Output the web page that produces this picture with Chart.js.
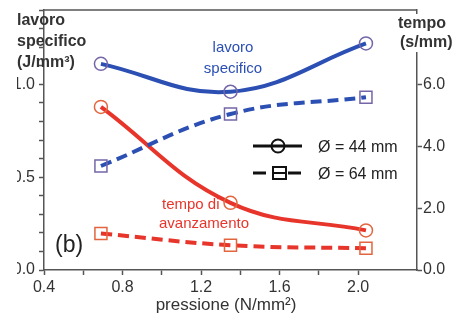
<!DOCTYPE html>
<html>
<head>
<meta charset="utf-8">
<script src="https://cdn.jsdelivr.net/npm/chart.js@4.4.1/dist/chart.umd.min.js"></script>
<style>
  html, body { margin: 0; padding: 0; background: #fff; }
  #wrap { width: 454px; height: 320px; }
</style>
</head>
<body>
<div id="wrap"><canvas id="grafico" width="454" height="320"></canvas></div>
<script>
// dati: pressione (N/mm2), lavoro specifico (J/mm3), tempo di avanzamento (s/mm)
const pressione = [0.69, 1.35, 2.04];
const lavoro44 = [1.11, 0.96, 1.22];
const lavoro64 = [0.56, 0.84, 0.93];
const tempo44 = [5.27, 2.17, 1.28];
const tempo64 = [1.18, 0.80, 0.70];
const xTicks = [0.4, 0.8, 1.2, 1.6, 2.0];
const yTicksSx = [0.0, 0.5, 1.0];
const yTicksDx = [0.0, 2.0, 4.0, 6.0];

const BLU = '#2b4fb3';
const BLU_MK = '#7466a8';
const ROSSO = '#e8352b';
const ROSSO_MK = '#e2653f';
const FONT = '"Liberation Sans", Arial, sans-serif';

const punti = (ys) => pressione.map((x, i) => ({ x: x, y: ys[i] }));
const inLista = (lista, v) => lista.some(t => Math.abs(t - v) < 1e-6);

function serie(ys, asse, colore, colMk, stile, tratteggio) {
  return {
    data: punti(ys),
    yAxisID: asse,
    borderColor: colore,
    borderWidth: 4,
    borderDash: tratteggio ? [11, 6] : [],
    tension: 0.4,
    pointStyle: stile,
    pointRadius: stile === 'rect' ? 8.5 : 6.5,
    pointBorderWidth: 1.5,
    pointBorderColor: colMk,
    pointBackgroundColor: 'rgba(0,0,0,0)',
    fill: false
  };
}

// testi, legenda e riquadro
const decorazioni = {
  id: 'decorazioni',
  afterDraw(chart) {
    const c = chart.ctx;
    const a = chart.chartArea;
    c.save();

    // bordo superiore del riquadro
    c.strokeStyle = '#555';
    c.lineWidth = 1.5;
    c.beginPath();
    c.moveTo(a.left, a.top);
    c.lineTo(a.right, a.top);
    c.stroke();

    // margine bianco a sinistra
    c.fillStyle = '#fff';
    c.fillRect(0, 0, 17, 320);

    // titolo asse sinistro
    c.fillStyle = '#333';
    c.font = 'bold 16px ' + FONT;
    c.textAlign = 'left';
    c.textBaseline = 'alphabetic';
    c.fillText('lavoro', 17, 25);
    c.fillText('specifico', 17, 46);
    c.fillText('(J/mm³)', 17, 67);

    // titolo asse destro
    c.fillStyle = '#fff';
    c.fillRect(396, 14, 58, 38);
    c.fillStyle = '#333';
    c.fillText('tempo', 398, 28);
    c.fillText('(s/mm)', 400, 47);

    // titolo asse x
    c.font = '17px ' + FONT;
    c.textAlign = 'center';
    c.fillText('pressione (N/mm²)', 226, 310);

    // (b)
    c.fillStyle = '#222';
    c.font = '23px ' + FONT;
    c.textAlign = 'left';
    c.fillText('(b)', 55, 252);

    // etichette delle curve
    c.font = '15px ' + FONT;
    c.textAlign = 'center';
    c.fillStyle = BLU;
    c.fillText('lavoro', 233, 52);
    c.fillText('specifico', 233, 73);
    c.fillStyle = ROSSO;
    c.textAlign = 'left';
    c.fillText('tempo di', 162, 209);
    c.fillText('avanzamento', 159, 228);

    // legenda
    c.strokeStyle = '#111';
    c.lineWidth = 3;
    c.beginPath();
    c.moveTo(253, 146);
    c.lineTo(302, 146);
    c.stroke();
    c.lineWidth = 2;
    c.beginPath();
    c.arc(278, 146, 6.5, 0, Math.PI * 2);
    c.stroke();

    c.lineWidth = 3;
    c.beginPath();
    c.moveTo(253, 173); c.lineTo(266, 173);
    c.moveTo(288, 173); c.lineTo(301, 173);
    c.stroke();
    c.lineWidth = 2;
    c.strokeRect(273, 167, 13, 12);
    c.beginPath();
    c.moveTo(273, 173); c.lineTo(286, 173);
    c.stroke();

    c.fillStyle = '#222';
    c.font = '16px ' + FONT;
    c.textAlign = 'left';
    c.fillText('Ø = 44 mm', 318, 152);
    c.fillText('Ø = 64 mm', 318, 179);

    c.restore();
  }
};

const tick = { color: '#333', font: { family: FONT, size: 16 } };

new Chart(document.getElementById('grafico'), {
  type: 'line',
  data: {
    datasets: [
      serie(lavoro44, 'ySx', BLU, BLU_MK, 'circle', false),
      serie(lavoro64, 'ySx', BLU, BLU_MK, 'rect', true),
      serie(tempo44, 'yDx', ROSSO, ROSSO_MK, 'circle', false),
      serie(tempo64, 'yDx', ROSSO, ROSSO_MK, 'rect', true)
    ]
  },
  options: {
    responsive: false,
    animation: false,
    devicePixelRatio: 1,
    layout: { padding: { top: 7, left: 0, right: 0, bottom: 0 } },
    plugins: { legend: { display: false }, tooltip: { enabled: false } },
    scales: {
      x: {
        type: 'linear',
        min: 0.4,
        max: 2.3,
        ticks: Object.assign({}, tick, {
          stepSize: 0.2,
          autoSkip: false,
          maxRotation: 0,
          padding: 3,
          callback: v => inLista(xTicks, v) ? v.toFixed(1) : ''
        }),
        grid: {
          drawOnChartArea: false,
          tickLength: 5,
          tickWidth: 1.5,
          tickColor: ctx => (ctx.tick && ctx.tick.value > 2.25) ? 'rgba(0,0,0,0)' : '#555'
        },
        border: { color: '#555', width: 1.5 },
        afterFit: s => { s.height = 50; s.paddingLeft = 0; s.paddingRight = 0; }
      },
      ySx: {
        position: 'left',
        min: 0,
        max: 1.4,
        ticks: Object.assign({}, tick, {
          stepSize: 0.1,
          autoSkip: false,
          padding: 4,
          callback: v => inLista(yTicksSx, v) ? v.toFixed(1) : ''
        }),
        grid: { drawOnChartArea: false, tickLength: 5, tickWidth: 1.5, tickColor: '#555' },
        border: { color: '#555', width: 1.5 },
        afterFit: s => { s.width = 44; s.paddingTop = 0; s.paddingBottom = 0; }
      },
      yDx: {
        position: 'right',
        min: 0,
        max: 8.4,
        ticks: Object.assign({}, tick, {
          stepSize: 2,
          autoSkip: false,
          padding: 1,
          callback: v => inLista(yTicksDx, v) ? v.toFixed(1) : ''
        }),
        grid: {
          drawOnChartArea: false,
          tickLength: 5,
          tickWidth: 1.5,
          tickColor: ctx => (ctx.tick && ctx.tick.value > 7) ? 'rgba(0,0,0,0)' : '#555'
        },
        border: { color: '#555', width: 1.5 },
        afterFit: s => { s.width = 37; s.paddingTop = 0; s.paddingBottom = 0; }
      }
    }
  },
  plugins: [decorazioni]
});
</script>
</body>
</html>
